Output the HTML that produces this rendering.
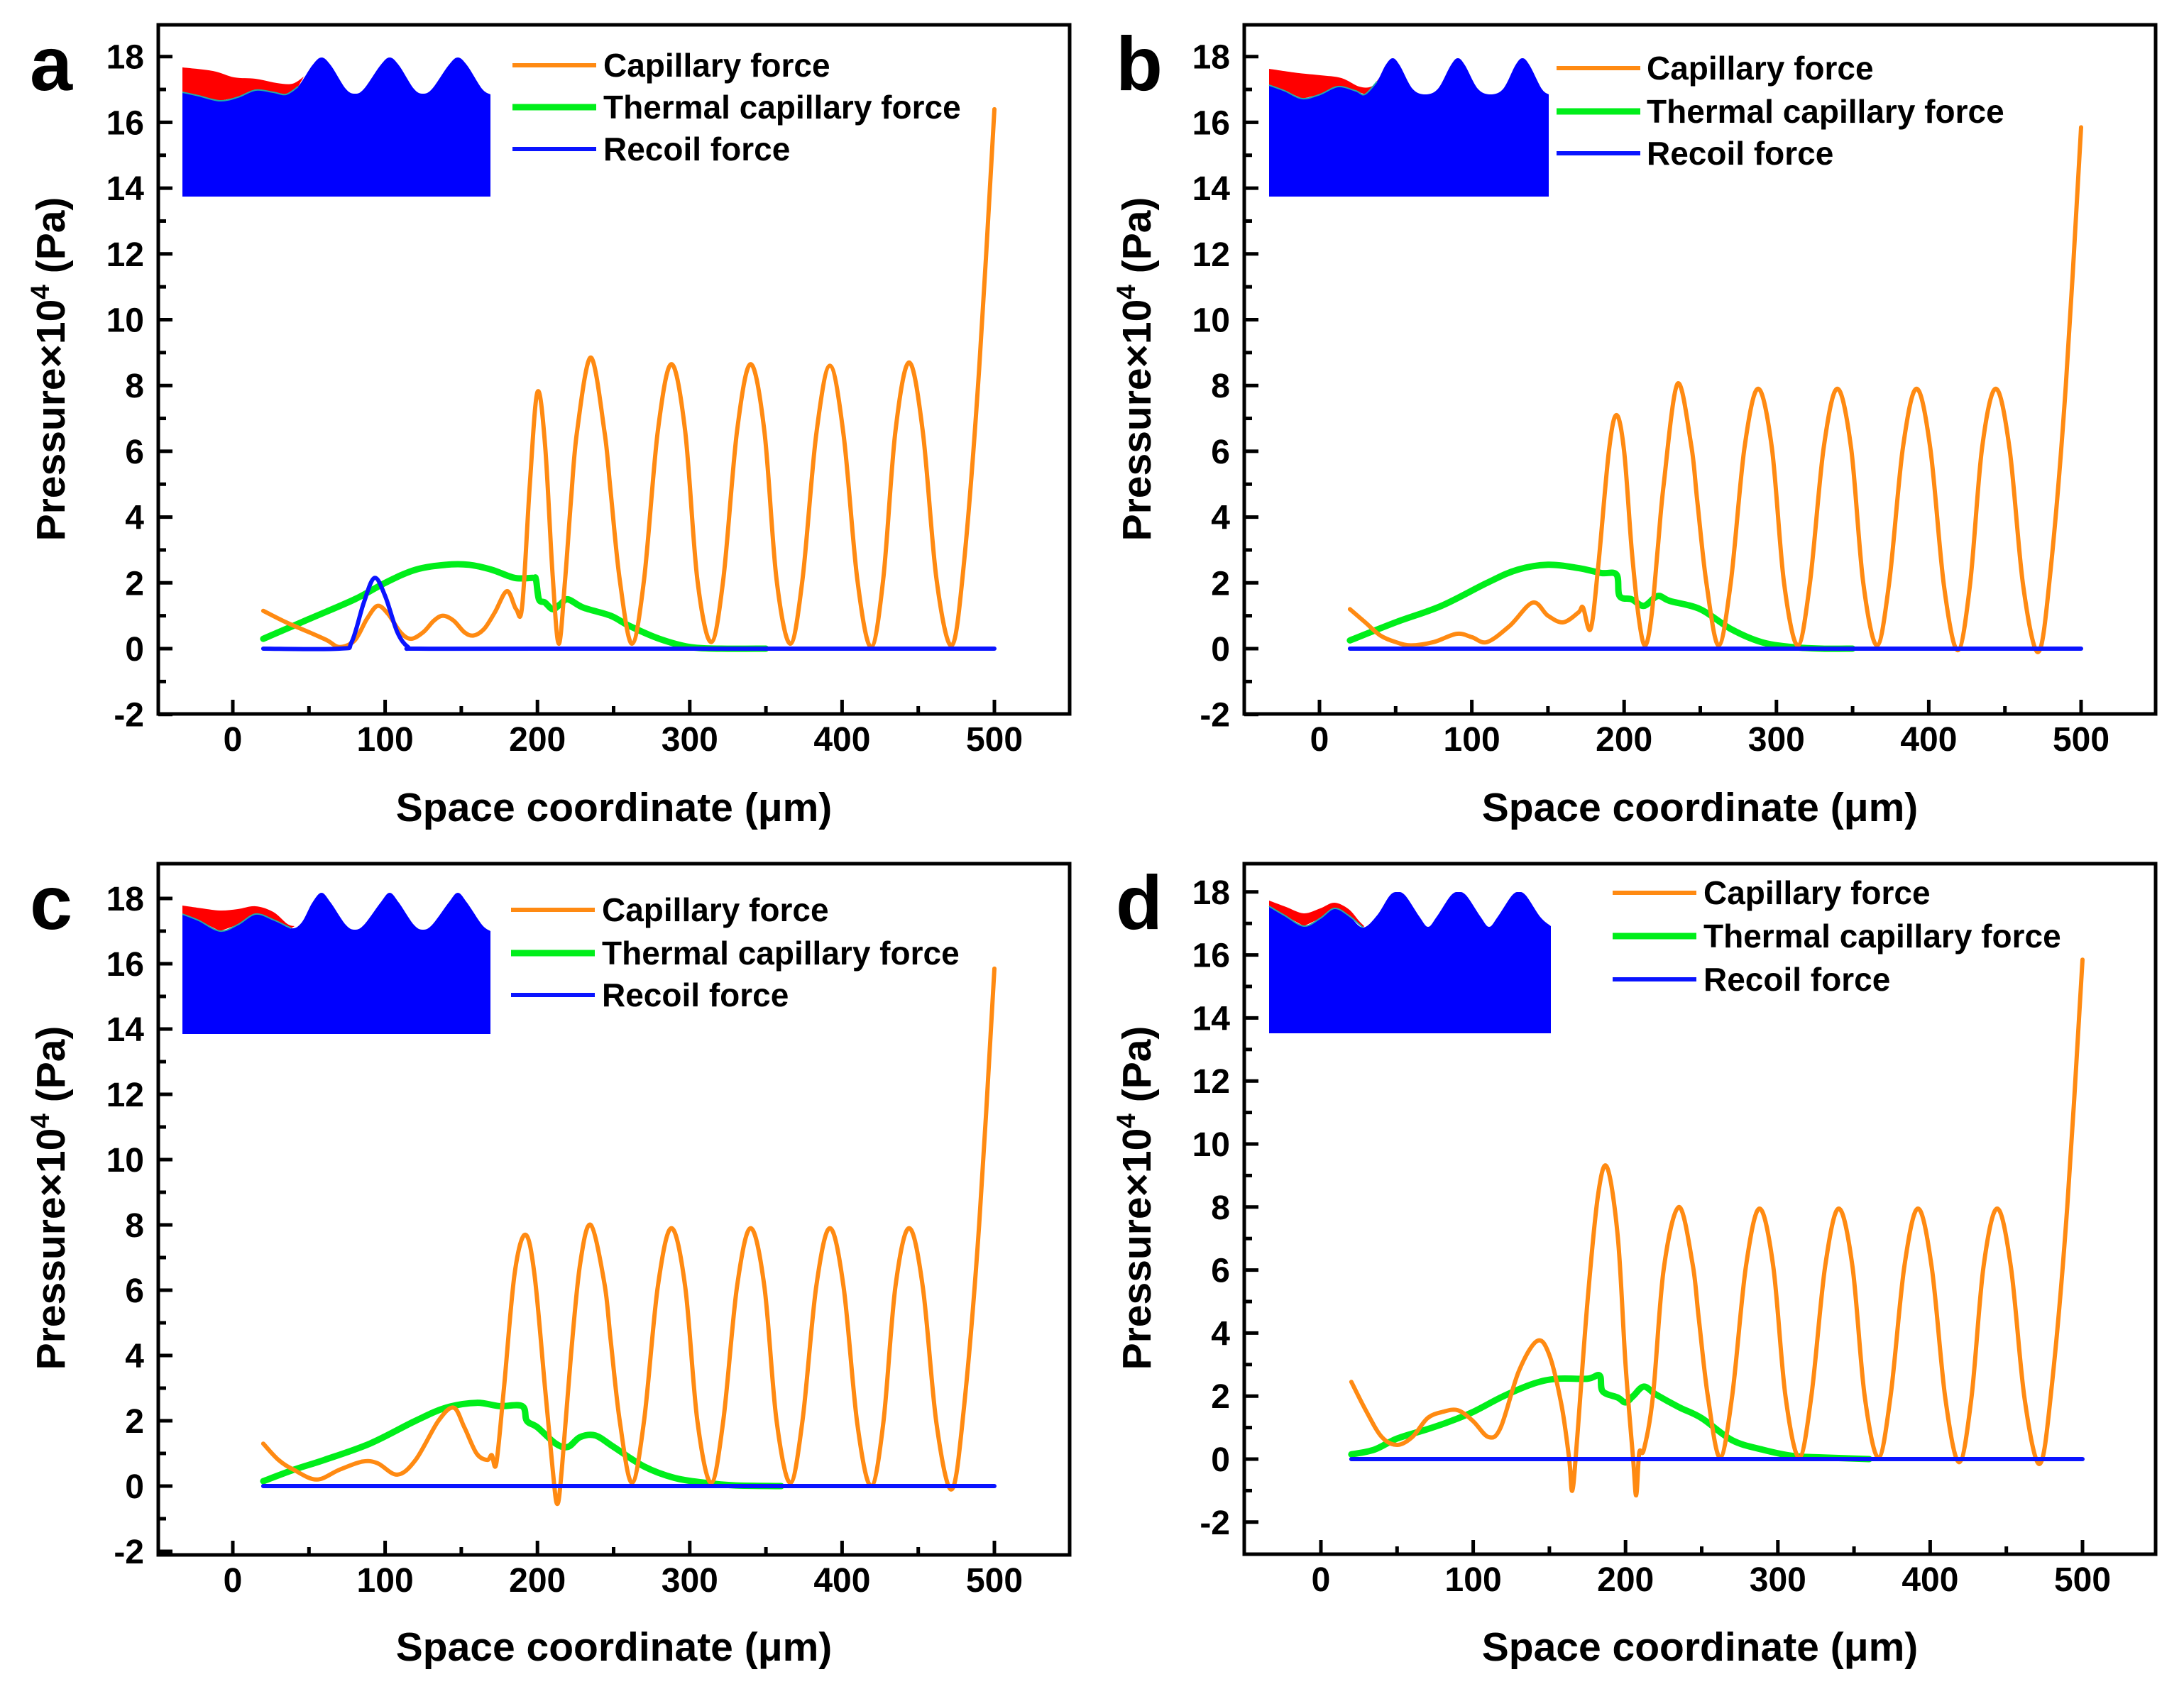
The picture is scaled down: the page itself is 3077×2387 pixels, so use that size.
<!DOCTYPE html>
<html><head><meta charset="utf-8"><style>
html,body{margin:0;padding:0;background:#fff;}
svg{display:block;}
text{font-family:"Liberation Sans",sans-serif;font-weight:bold;fill:#000;}
</style></head><body>
<svg id="fig" width="3077" height="2387" viewBox="0 0 3077 2387" xmlns="http://www.w3.org/2000/svg"></svg>
<script>
// ---------- data ----------
const xTicks=[0,100,200,300,400,500];
const yTicks=[-2,0,2,4,6,8,10,12,14,16,18];
const seriesNames=["Capillary force","Thermal capillary force","Recoil force"];

const aCapX=[20,35,50,62,70,80,88,95,102,110,117,125,132,138,145,152,158,165,172,180,186,190,195,200,205,210,214,218,222,226,235,244,248,254,262,270,279,288,297,305,314,322,331,340,349,357,366,374,383,392,401,410,419,427,435,444,453,462,472,480,490,500];
const aCapY=[1.15,0.8,0.5,0.25,0.05,0.25,0.9,1.3,1.05,0.5,0.3,0.5,0.85,1.0,0.85,0.5,0.4,0.6,1.1,1.75,1.2,1.3,5.0,7.8,6.2,2.2,0.15,2.0,4.5,6.6,8.85,6.6,4.8,2.1,0.15,2.1,6.6,8.65,6.6,2.1,0.2,2.1,6.6,8.65,6.6,2.1,0.15,2.1,6.5,8.6,6.5,2.1,0.05,2.1,6.6,8.7,6.6,2.1,0.1,2.6,8.5,16.4];
const aThX=[20,50,80,100,120,140,155,170,185,197,199,201,205,210,215,220,230,248,260,280,300,320,350];
const aThY=[0.3,0.9,1.5,2.0,2.4,2.55,2.55,2.4,2.15,2.15,2.1,1.5,1.4,1.2,1.35,1.5,1.25,1.0,0.7,0.3,0.05,0.0,0.0];
const aReX=[20,70,78,86,93,100,108,115,122,200,500];
const aReY=[0,0,0.2,1.4,2.15,1.6,0.5,0.05,0,0,0];

const bCapX=[20,30,40,50,60,75,90,100,110,125,140,150,160,170,173,178,183,190,195,200,205,210,214,218,222,226,235,244,248,254,262,270,279,288,297,305,314,322,331,340,349,357,366,374,383,392,401,410,419,427,435,444,453,462,472,480,490,500];
const bCapY=[1.2,0.8,0.4,0.2,0.1,0.2,0.45,0.35,0.2,0.7,1.4,1.0,0.8,1.1,1.25,0.6,2.5,6.0,7.1,6.0,3.0,0.8,0.1,1.0,3.0,5.0,8.05,6.2,4.5,2.0,0.1,2.0,6.1,7.9,6.1,2.0,0.1,2.0,6.1,7.9,6.1,2.0,0.1,2.0,6.1,7.9,6.1,1.9,-0.05,1.9,6.1,7.9,6.1,1.9,-0.1,2.4,8.0,15.85];
const bThX=[20,50,80,110,130,150,170,185,195,197,205,213,222,230,250,270,290,310,330,350];
const bThY=[0.25,0.8,1.3,2.0,2.4,2.55,2.45,2.3,2.25,1.6,1.5,1.3,1.6,1.45,1.2,0.6,0.2,0.05,0,0];
const bReX=[20,500];
const bReY=[0,0];

const cCapX=[20,30,40,55,70,85,95,108,120,135,145,152,160,167,170,173,178,185,192,198,205,210,213,216,222,228,235,244,248,254,262,270,279,288,297,305,314,322,331,340,349,357,366,374,383,392,401,410,419,427,435,444,453,462,472,480,490,500];
const cCapY=[1.3,0.8,0.5,0.2,0.5,0.75,0.7,0.35,0.8,2.0,2.4,1.8,1.0,0.8,0.95,0.7,3.0,6.5,7.7,6.5,3.0,0.5,-0.55,0.5,4.0,6.8,8.0,6.2,4.5,2.0,0.1,2.0,6.1,7.9,6.1,2.0,0.1,2.0,6.1,7.9,6.1,2.0,0.1,2.0,6.1,7.9,6.1,1.9,0.0,1.9,6.1,7.9,6.1,1.9,-0.1,2.4,8.0,15.85];
const cThX=[20,40,60,90,120,140,160,175,190,193,200,212,220,228,238,250,270,290,310,330,360];
const cThY=[0.15,0.5,0.8,1.3,2.0,2.4,2.55,2.45,2.45,2.0,1.8,1.3,1.2,1.5,1.55,1.2,0.6,0.25,0.1,0.02,0];
const cReX=[20,500];
const cReY=[0,0];

const dCapX=[20,30,40,50,60,70,80,90,100,110,118,130,142,150,158,163,165,168,175,182,188,195,200,205,207,209,212,218,225,235,244,248,254,262,270,279,288,297,305,314,322,331,340,349,357,366,374,383,392,401,410,419,427,435,444,453,462,472,480,490,500];
const dCapY=[2.45,1.5,0.7,0.45,0.7,1.3,1.5,1.55,1.2,0.7,1.0,2.8,3.75,3.3,1.7,0.0,-1.0,0.5,5.0,8.4,9.25,7.0,3.0,0.0,-1.15,0.2,0.3,2.0,6.0,8.0,6.2,4.5,2.0,0.05,2.0,6.1,7.95,6.1,2.0,0.05,2.0,6.1,7.95,6.1,2.0,0.05,2.0,6.1,7.95,6.1,1.9,-0.1,1.9,6.1,7.95,6.1,1.9,-0.15,2.4,8.0,15.85];
const dThX=[20,35,50,70,85,100,120,140,155,175,183,185,195,200,205,212,220,235,250,270,290,310,330,360];
const dThY=[0.15,0.3,0.65,0.95,1.2,1.5,2.0,2.4,2.55,2.55,2.65,2.15,1.95,1.8,2.0,2.3,2.05,1.65,1.3,0.6,0.3,0.1,0.05,0];
const dReX=[20,500];
const dReY=[0,0];

// ---------- layout ----------
const NS="http://www.w3.org/2000/svg";
const svg=document.getElementById('fig');
function mk(tag,attrs,parent){const e=document.createElementNS(NS,tag);for(const k in attrs)e.setAttribute(k,attrs[k]);(parent||svg).appendChild(e);return e;}
function smooth(pts){
  if(pts.length<2)return "";
  let d="M"+pts[0][0].toFixed(1)+","+pts[0][1].toFixed(1);
  for(let i=0;i<pts.length-1;i++){
    const p0=pts[i-1]||pts[i],p1=pts[i],p2=pts[i+1],p3=pts[i+2]||p2;
    const c1=[p1[0]+(p2[0]-p0[0])/6,p1[1]+(p2[1]-p0[1])/6];
    const c2=[p2[0]-(p3[0]-p1[0])/6,p2[1]-(p3[1]-p1[1])/6];
    d+=" C"+c1[0].toFixed(1)+","+c1[1].toFixed(1)+" "+c2[0].toFixed(1)+","+c2[1].toFixed(1)+" "+p2[0].toFixed(1)+","+p2[1].toFixed(1);
  }
  return d;
}
const panels=[
 {id:'a',ox:0,L:223,R:1507,T:35,B:1006,x0:328,xs:2.146,y0:914,ys:46.35,cap:[aCapX,aCapY],th:[aThX,aThY],re:[aReX,aReY],
  leg:{x1:722,x2:840,tx:850,ys:[92,151,210]},title:{xy:1137,yx:71,yy:520},
  inset:{L:257,R:691,B:277,blue:[[257,130],[280,135],[310,142],[335,137],[360,127],[385,130],[403,133],[420,122],[440,92],[453,81],[466,92],[487,125],[500,132],[513,125],[536,92],[549,81],[562,92],[583,125],[596,132],[609,125],[632,92],[645,81],[658,92],[679,125],[691,133]],
   red:[[257,95],[300,100],[330,109],[360,111],[390,117],[412,118],[428,108]]}},
 {id:'b',ox:1530,L:1753,R:3037,T:35,B:1006,x0:1859,xs:2.146,y0:914,ys:46.35,cap:[bCapX,bCapY],th:[bThX,bThY],re:[bReX,bReY],
  leg:{x1:2193,x2:2311,tx:2320,ys:[96,157,216]},title:{xy:1137,yx:1601,yy:520},
  inset:{L:1788,R:2182,B:277,blue:[[1788,120],[1810,128],[1835,139],[1860,133],[1885,122],[1910,128],[1923,133],[1940,115],[1952,92],[1962,82],[1972,92],[1990,125],[2008,133],[2026,125],[2044,92],[2054,82],[2064,92],[2082,125],[2100,133],[2118,125],[2135,92],[2145,82],[2155,92],[2172,125],[2182,133]],
   red:[[1788,97],[1830,103],[1860,106],[1890,110],[1915,122],[1932,122],[1943,110]]}},
 {id:'c',ox:0,L:223,R:1507,T:1217,B:2191,x0:328,xs:2.146,y0:2094,ys:46.0,cap:[cCapX,cCapY],th:[cThX,cThY],re:[cReX,cReY],
  leg:{x1:720,x2:838,tx:848,ys:[1282,1343,1402]},title:{xy:2320,yx:71,yy:1688},
  inset:{L:257,R:691,B:1457,blue:[[257,1288],[280,1297],[310,1312],[335,1303],[360,1288],[385,1296],[410,1308],[425,1300],[440,1272],[453,1258],[466,1272],[487,1303],[500,1310],[513,1303],[536,1272],[549,1258],[562,1272],[583,1303],[596,1310],[609,1303],[632,1272],[645,1258],[658,1272],[679,1303],[691,1312]],
   red:[[257,1276],[285,1280],[310,1283],[335,1281],[360,1277],[385,1285],[405,1302],[415,1305]]}},
 {id:'d',ox:1530,L:1753,R:3037,T:1217,B:2190,x0:1861,xs:2.146,y0:2056,ys:44.4,cap:[dCapX,dCapY],th:[dThX,dThY],re:[dReX,dReY],
  leg:{x1:2272,x2:2390,tx:2400,ys:[1258,1319,1380]},title:{xy:2320,yx:1601,yy:1688},
  inset:{L:1788,R:2185,B:1456,blue:[[1788,1277],[1810,1290],[1837,1305],[1860,1294],[1880,1280],[1900,1290],[1920,1307],[1940,1290],[1958,1262],[1969,1257],[1980,1262],[2000,1292],[2012,1306],[2024,1292],[2044,1262],[2055,1257],[2066,1262],[2086,1292],[2098,1306],[2110,1292],[2130,1262],[2140,1257],[2150,1262],[2170,1292],[2185,1305]],
   red:[[1788,1269],[1812,1278],[1837,1287],[1860,1280],[1880,1272],[1900,1281],[1915,1298],[1922,1305]]}}
];

panels.forEach(p=>{
  const g=mk('g',{});
  
  
  const X=v=>p.x0+v*p.xs, Y=v=>p.y0-v*p.ys;
  // inset
  const ins=mk('g',{},g);
  
  
  const bl=p.inset.blue;
  const bd=smooth(bl)+" L"+p.inset.R+","+p.inset.B+" L"+p.inset.L+","+p.inset.B+" Z";
  const rd=p.inset.red, nr=rd.length;
  let under=bl.filter(q=>q[0]<=rd[nr-1][0]).slice().reverse();
  const rdPath=smooth(rd)+" L"+under.map(q=>q[0]+","+q[1]).join(" L")+" Z";
  mk('path',{d:rdPath,fill:'#ff0000'},ins);
  mk('path',{d:bd,fill:'#0000ff'},ins);
  mk('path',{d:smooth(bl.filter(q=>q[0]<=rd[nr-1][0])),fill:'none',stroke:'#22aaaa','stroke-width':2},ins);
  // series
  const draw=(arr,color,w,name)=>{
    const pts=arr[0].map((x,i)=>[X(x),Y(arr[1][i])]);
    const e=mk('path',{d:smooth(pts),fill:'none',stroke:color,'stroke-width':w,'stroke-linejoin':'round','stroke-linecap':'round'},g);
    
    
  };
  draw(p.th,'#00ee1a',9,'thermal-capillary-force');
  draw(p.cap,'#ff8a12',6,'capillary-force');
  draw(p.re,'#0a14ff',6,'recoil-force');
  // frame
  const fr=mk('rect',{x:p.L,y:p.T,width:p.R-p.L,height:p.B-p.T,fill:'none',stroke:'#000','stroke-width':5},g);
  
  
  // x ticks
  xTicks.forEach(v=>{
    const x=X(v);
    mk('line',{x1:x,x2:x,y1:p.B,y2:p.B-20,stroke:'#000','stroke-width':5},g);
    const t=mk('text',{x:x,y:p.B+52,'text-anchor':'middle','font-size':48},g);
    t.textContent=v;
    
    
    if(v<500) mk('line',{x1:X(v+50),x2:X(v+50),y1:p.B,y2:p.B-11,stroke:'#000','stroke-width':5},g);
  });
  yTicks.forEach(v=>{
    const y=Y(v);
    mk('line',{x1:p.L,x2:p.L+20,y1:y,y2:y,stroke:'#000','stroke-width':5},g);
    const t=mk('text',{x:p.L-20,y:y+17,'text-anchor':'end','font-size':48},g);
    t.textContent=v;
    
    
    if(v<18) mk('line',{x1:p.L,x2:p.L+11,y1:Y(v+1),y2:Y(v+1),stroke:'#000','stroke-width':5},g);
  });
  // titles
  const xt=mk('text',{x:(p.L+p.R)/2,y:p.title.xy+20,'text-anchor':'middle','font-size':57},g);
  xt.textContent='Space coordinate (μm)';
  
  
  const yt=mk('text',{x:0,y:0,'text-anchor':'middle','font-size':57,transform:'translate('+(p.title.yx+20)+','+p.title.yy+') rotate(-90)'},g);
  yt.innerHTML='Pressure×10<tspan dy="-22" font-size="37">4</tspan><tspan dy="22"> (Pa)</tspan>';
  
  
  // panel letter
  const pl=mk('text',{x:p.ox+42,y:p.T+92,'font-size':108},g);
  pl.textContent=p.id;
  
  
  // legend
  const cols=['#ff8a12','#00ee1a','#0a14ff'], ws=[6,9,6];
  seriesNames.forEach((n,i)=>{
    const le=mk('g',{},g);
    
    
    const y=p.leg.ys[i];
    mk('line',{x1:p.leg.x1,x2:p.leg.x2,y1:y,y2:y,stroke:cols[i],'stroke-width':ws[i]},le);
    const t=mk('text',{x:p.leg.tx,y:y+16,'font-size':46},le);
    t.textContent=n;
  });
});
</script>
</body></html>
